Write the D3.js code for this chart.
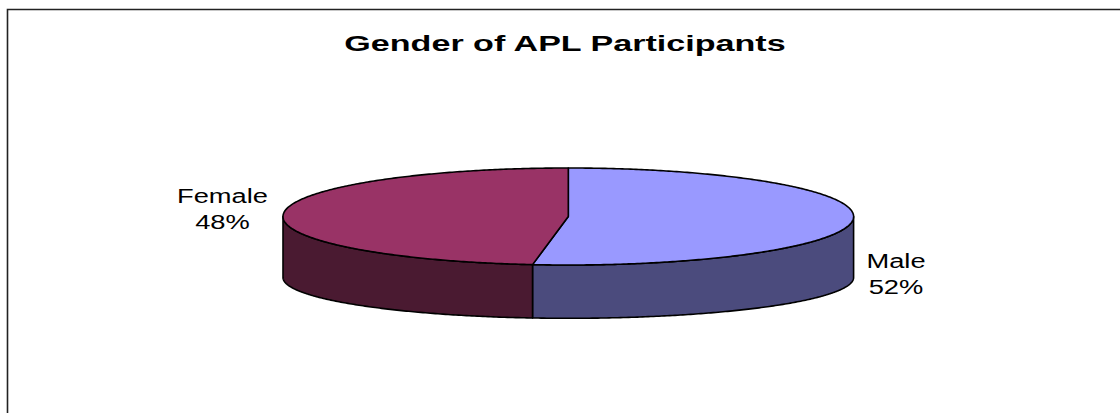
<!DOCTYPE html>
<html>
<head>
<meta charset="utf-8">
<script src="https://cdn.jsdelivr.net/npm/d3@7"></script>
<style>
  html, body { margin: 0; padding: 0; background: #fff; }
  svg { display: block; }
  text { font-family: "Liberation Sans", Arial, sans-serif; }
</style>
</head>
<body>
<svg id="chart" width="1120" height="413"></svg>
<script>
// Chart data
const title = "Gender of APL Participants";
const categories = ["Male", "Female"];
const shares = [52, 48];
const topColors = ["#9999FF", "#993366"];
const sideColors = ["#4B4B7D", "#4A1A31"];

const svg = d3.select("#chart");

// Chart frame (open on the right and bottom edges)
svg.append("path")
  .attr("d", "M7.5,413 L7.5,9.5 L1120,9.5")
  .attr("fill", "none")
  .attr("stroke", "#222")
  .attr("stroke-width", 1.6);

// Text drawn with a horizontal stretch (wide chart-style lettering)
function wideText(parent, x, y, str, size, sx, bold) {
  const t = parent.append("text")
    .attr("transform", `translate(${x},${y}) scale(${sx},1)`)
    .attr("text-anchor", "middle")
    .attr("font-size", size)
    .attr("fill", "#000")
    .text(str);
  if (bold) t.attr("font-weight", "bold");
  return t;
}

// Title
wideText(svg, 565, 51, title, 22, 1.55, true);

// 3D pie geometry: top ellipse and a slightly flatter bottom ellipse
const cx = 568.3, rx = 285.3;
const cyTop = 216.5, ryTop = 48.5;
const cyBot = 277.5, ryBot = 40.8;

const pie = d3.pie().sort(null).startAngle(0).endAngle(2 * Math.PI);
const arcs = pie(shares);

const px = a => cx + rx * Math.sin(a);
const pyTop = a => cyTop - ryTop * Math.cos(a);
const pyBot = a => cyBot - ryBot * Math.cos(a);

function samples(a0, a1) {
  const n = Math.max(2, Math.ceil((a1 - a0) / 0.01));
  return d3.range(n + 1).map(i => a0 + (a1 - a0) * i / n);
}

const line = d3.line();
const g = svg.append("g");

// Side walls: only the front half (angles between 90° and 270°) is visible
arcs.forEach((d, i) => {
  const a0 = Math.max(d.startAngle, Math.PI / 2);
  const a1 = Math.min(d.endAngle, 3 * Math.PI / 2);
  if (a1 <= a0) return;
  const s = samples(a0, a1);
  const pts = s.map(a => [px(a), pyTop(a)])
    .concat(s.slice().reverse().map(a => [px(a), pyBot(a)]));
  g.append("path")
    .attr("d", line(pts) + "Z")
    .attr("fill", sideColors[i])
    .attr("stroke", "#000")
    .attr("stroke-width", 1.6)
    .attr("stroke-linejoin", "round");
});

// Top faces
arcs.forEach((d, i) => {
  const s = samples(d.startAngle, d.endAngle);
  const pts = [[cx, cyTop]].concat(s.map(a => [px(a), pyTop(a)]));
  g.append("path")
    .attr("d", line(pts) + "Z")
    .attr("fill", topColors[i])
    .attr("stroke", "#000")
    .attr("stroke-width", 1.6)
    .attr("stroke-linejoin", "round");
});

// Data labels
const labelPos = [
  { x: 896, y: 268 },
  { x: 222.5, y: 203 }
];
arcs.forEach((d, i) => {
  wideText(svg, labelPos[i].x, labelPos[i].y, categories[i], 21, 1.3, false);
  wideText(svg, labelPos[i].x, labelPos[i].y + 26, shares[i] + "%", 21, 1.3, false);
});
</script>
</body>
</html>
